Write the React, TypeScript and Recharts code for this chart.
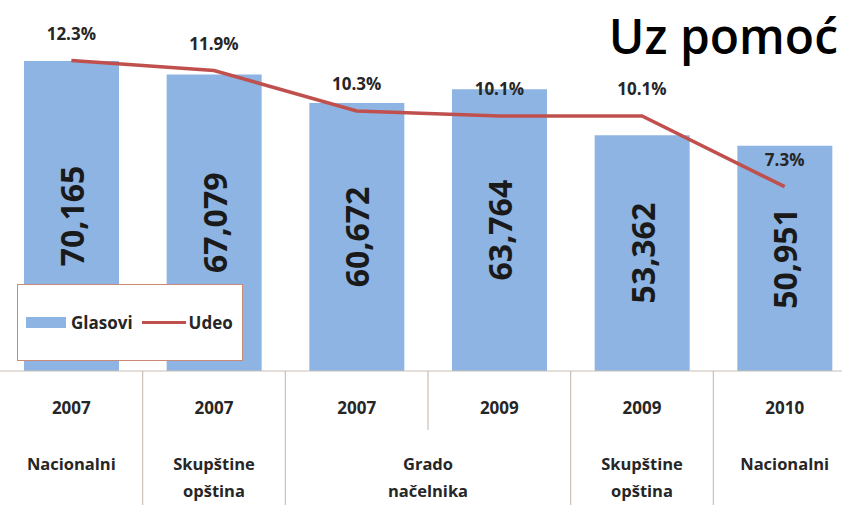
import React from 'react'
import { ComposedChart, Bar, Line, XAxis, YAxis, LabelList } from 'recharts'

const years = ['2007', '2007', '2007', '2009', '2009', '2010']
const electionTypes = [
  'Nacionalni',
  'Skupštine opština',
  'Grado načelnika',
  'Grado načelnika',
  'Skupštine opština',
  'Nacionalni',
]
const glasovi = [70165, 67079, 60672, 63764, 53362, 50951]
const udeo = [12.3, 11.9, 10.3, 10.1, 10.1, 7.3]

const CHART_W = 856
const CHART_H = 505
const TOP = 17.5
const XAXIS_H = 134
const AXIS_Y = CHART_H - XAXIS_H
const BAND = CHART_W / years.length

const FONT = '"Open Sans", sans-serif'
const TEXT = '#262626'
const GRID = '#cbbfb8'
const BLUE = '#8db4e2'
const RED = '#c0504d'

const data = years.map((year, i) => ({
  key: i,
  year,
  type: electionTypes[i],
  glasovi: glasovi[i],
  udeo: udeo[i],
}))

function CategoryTick(props: any) {
  const { x, index } = props
  const type = electionTypes[index]
  const sameAsPrev = index > 0 && electionTypes[index - 1] === type
  const sameAsNext = index < electionTypes.length - 1 && electionTypes[index + 1] === type
  const left = x - BAND / 2
  const labelX = sameAsNext ? x + BAND / 2 : x
  const lines = type.split(' ')
  return (
    <g>
      {index > 0 && (
        <line
          x1={left}
          x2={left}
          y1={AXIS_Y}
          y2={sameAsPrev ? AXIS_Y + 59 : CHART_H}
          stroke={GRID}
          strokeWidth={1.2}
        />
      )}
      <text
        x={x}
        y={AXIS_Y + 36}
        textAnchor="middle"
        dominantBaseline="central"
        fontFamily={FONT}
        fontWeight={700}
        fontSize={17}
        fill={TEXT}
      >
        {years[index]}
      </text>
      {!sameAsPrev &&
        lines.map((ln, j) => (
          <text
            key={j}
            x={labelX}
            y={AXIS_Y + 92 + j * 27}
            textAnchor="middle"
            dominantBaseline="central"
            fontFamily={FONT}
            fontWeight={700}
            fontSize={16.5}
            fill={TEXT}
          >
            {ln}
          </text>
        ))}
    </g>
  )
}

function BarValue(props: any) {
  const { x, y, width, height, value } = props
  const cx = x + width / 2
  const cy = y + height / 2
  return (
    <text
      x={cx}
      y={cy}
      transform={`rotate(-90 ${cx} ${cy})`}
      textAnchor="middle"
      dominantBaseline="central"
      fontFamily={FONT}
      fontWeight={700}
      fontSize={32}
      fill="#1a1a1a"
    >
      {Number(value).toLocaleString('en-US')}
    </text>
  )
}

function PctValue(props: any) {
  const { x, y, value } = props
  return (
    <text
      x={x}
      y={y - 27}
      textAnchor="middle"
      dominantBaseline="central"
      fontFamily={FONT}
      fontWeight={700}
      fontSize={17}
      fill={TEXT}
    >
      {Number(value).toFixed(1)}%
    </text>
  )
}

export default function App() {
  return (
    <div
      style={{
        position: 'absolute',
        left: 0,
        top: 0,
        width: 842,
        height: 505,
        overflow: 'hidden',
        background: '#fff',
        fontFamily: FONT,
      }}
    >
      <ComposedChart
        width={CHART_W}
        height={CHART_H}
        data={data}
        margin={{ top: TOP, right: 0, left: 0, bottom: 0 }}
      >
        <XAxis
          dataKey="key"
          height={XAXIS_H}
          tick={<CategoryTick />}
          tickLine={false}
          axisLine={{ stroke: GRID, strokeWidth: 1.2 }}
          interval={0}
        />
        <YAxis yAxisId="left" hide domain={[0, 80000]} />
        <YAxis yAxisId="right" orientation="right" hide domain={[0, 14]} />
        <Bar yAxisId="left" dataKey="glasovi" fill={BLUE} barSize={95} isAnimationActive={false}>
          <LabelList dataKey="glasovi" content={<BarValue />} />
        </Bar>
        <Line
          yAxisId="right"
          dataKey="udeo"
          stroke={RED}
          strokeWidth={3.5}
          dot={false}
          activeDot={false}
          isAnimationActive={false}
        >
          <LabelList dataKey="udeo" content={<PctValue />} />
        </Line>
      </ComposedChart>

      <div
        style={{
          position: 'absolute',
          right: 4,
          top: 6,
          fontSize: 48,
          fontWeight: 600,
          color: '#000',
          lineHeight: '60px',
          whiteSpace: 'nowrap',
        }}
      >
        Uz pomoć
      </div>

      <div
        style={{
          position: 'absolute',
          left: 17,
          top: 284,
          width: 226,
          height: 77,
          boxSizing: 'border-box',
          border: '1.5px solid #c98a76',
          background: '#fff',
          display: 'flex',
          alignItems: 'center',
          paddingLeft: 8,
          fontSize: 17,
          fontWeight: 700,
          color: TEXT,
        }}
      >
        <span style={{ display: 'inline-block', width: 40, height: 11, background: BLUE, marginRight: 5 }} />
        <span>Glasovi</span>
        <span style={{ display: 'inline-block', width: 44, height: 3, background: RED, margin: '0 3px 0 9px' }} />
        <span>Udeo</span>
      </div>
    </div>
  )
}
